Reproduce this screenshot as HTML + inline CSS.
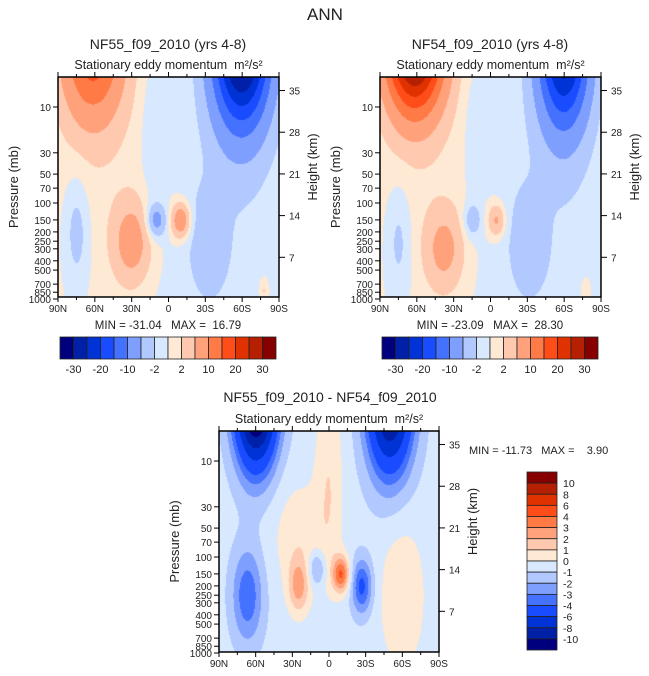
<!DOCTYPE html>
<html><head><meta charset="utf-8">
<style>
body{margin:0;background:#fff;font-family:"Liberation Sans",sans-serif;}
#wrap{position:relative;width:649px;height:676px;overflow:hidden;}
canvas{position:absolute;}
svg{position:absolute;left:0;top:0;}
text{font-family:"Liberation Sans",sans-serif;fill:#222;white-space:pre;}
</style></head><body>
<div id="wrap">
<canvas id="c1" width="221" height="220" style="left:58px;top:77px"></canvas>
<canvas id="c2" width="221" height="220" style="left:380px;top:77px"></canvas>
<canvas id="c3" width="220" height="221" style="left:219px;top:431px"></canvas>
<svg id="s" width="649" height="676"></svg>
</div>
<script>
// ---- data ----
const levelsTop=[-30,-25,-20,-15,-10,-5,-2,0,2,5,10,15,20,25,30];
const levelsDiff=[-10,-8,-6,-4,-3,-2,-1,0,1,2,3,4,6,8,10];
const topBarLabels=["-30","-20","-10","-2","2","10","20","30"];
const diffBarLabels=["10","8","6","4","3","2","1","0","-1","-2","-3","-4","-6","-8","-10"];
const latTicks=[90,60,30,0,-30,-60,-90];
const latLabels=["90N","60N","30N","0","30S","60S","90S"];
const presTicks=[10,30,50,70,100,150,200,250,300,400,500,700,850,1000];
const heightTicks=[35,28,21,14,7];
// blobs: [lat, pressure(mb), amplitude, sigmaLat, sigmaLog10p]
const blobsNF55=[[40,30,1.2,45,1.2],[-40,100,-1.8,40,1.5],[62,2,19,17,0.55],[-60,2,-36,16,0.6],[15,20,-1.5,6,0.6],
 [75,200,-3.5,7,0.4],[30,250,7,11,0.3],[10,150,-7,5.5,0.12],[-10,150,9,5.5,0.13],[-32,250,-3,10,0.35],[-78,800,3,3,0.1]];
const blobsNF54=[[40,30,1.2,45,1.2],[-40,100,-1.8,40,1.5],[62,2,38,16,0.5],[-60,2,-30,14,0.6],[15,20,-1.2,6,0.6],
 [75,250,-3,7,0.4],[38,300,6,11,0.3],[15,150,-4,5,0.12],[-5,150,6,5,0.12],[-30,250,-3,10,0.35],[-78,800,2.5,3,0.1]];
const blobsDiff=[[0,100,-0.6,400,20],[0,15,1.5,8,0.8],[25,60,1.3,15,0.4],[-60,250,1.5,13,0.55],
 [60,2,-14,12,0.5],[-50,2,-11,13,0.55],[67,250,-3.2,9,0.35],[25,200,2.8,6,0.2],[10,130,-2.3,5,0.13],[-10,150,4.5,5,0.13],[-27,200,-3.8,6,0.2]];
const colors=["#00007f","#0020a8","#0033d6","#1a4cff","#4472ff","#7f9fff","#b2c9ff","#d7e8ff","#fde9d4","#ffc9b0","#ffa27c","#ff7a45","#ff4d1a","#e03200","#b52000","#870000"];
// ---- helpers ----
const TOPP=Math.pow(10,1-30/96), DEC=96;
function field(blobs,lat,lp){let v=0;for(const b of blobs){const dl=(lat-b[0])/b[3],dp=(lp-Math.log10(b[1]))/b[4];v+=b[2]*Math.exp(-0.5*(dl*dl+dp*dp));}return v;}
function hex(c){return [parseInt(c.slice(1,3),16),parseInt(c.slice(3,5),16),parseInt(c.slice(5,7),16)];}
const rgb=colors.map(hex);
function draw(id,blobs,levels){const cv=document.getElementById(id),ctx=cv.getContext('2d'),W=cv.width,H=cv.height;
 const im=ctx.createImageData(W,H);
 for(let y=0;y<H;y++){const lp=Math.log10(TOPP)+y/DEC;
  for(let x=0;x<W;x++){const lat=90-x/(W-1)*180;const v=field(blobs,lat,lp);let k=0;while(k<levels.length&&v>=levels[k])k++;
   const c=rgb[k],o=(y*W+x)*4;im.data[o]=c[0];im.data[o+1]=c[1];im.data[o+2]=c[2];im.data[o+3]=255;}}
 ctx.putImageData(im,0,0);}
draw('c1',blobsNF55,levelsTop);draw('c2',blobsNF54,levelsTop);draw('c3',blobsDiff,levelsDiff);
const S=document.getElementById('s'),NS="http://www.w3.org/2000/svg";
function el(t,a,txt){const e=document.createElementNS(NS,t);for(const k in a)e.setAttribute(k,a[k]);if(txt!==undefined)e.textContent=txt;S.appendChild(e);return e;}
function txt(x,y,s,size,name,anchor,extra){const e=el('text',Object.assign({x:x,y:y,'font-size':size,'text-anchor':anchor||'middle'},extra||{}),s);
 
 return e;}
function panel(x0,y0,W,H,pre){
 const xs=lat=>x0+(90-lat)/180*W, ys=p=>y0+(Math.log10(p)-Math.log10(TOPP))*DEC;
 const r=el('rect',{x:x0,y:y0,width:W,height:H,fill:'none',stroke:'#000','stroke-width':1.5});
 
 
 latTicks.forEach((l,i)=>{const x=xs(l);el('line',{x1:x,x2:x,y1:y0+H,y2:y0+H+5,stroke:'#000'});el('line',{x1:x,x2:x,y1:y0,y2:y0-5,stroke:'#000'});
  txt(x,y0+H+15,latLabels[i],10,pre+'-x-tick-label');});
 for(let l=75;l>-90;l-=15){if(l%30==0)continue;const x=xs(l);el('line',{x1:x,x2:x,y1:y0+H,y2:y0+H+3,stroke:'#000'});el('line',{x1:x,x2:x,y1:y0,y2:y0-3,stroke:'#000'});}
 presTicks.forEach(p=>{const y=ys(p);el('line',{x1:x0-5,x2:x0,y1:y,y2:y,stroke:'#000'});txt(x0-7,y+4,String(p),10,pre+'-y-tick-label','end');});
 heightTicks.forEach(h=>{const p=1000*Math.exp(-h/7);const y=ys(p);el('line',{x1:x0+W,x2:x0+W+6,y1:y,y2:y,stroke:'#000'});txt(x0+W+10,y+4,String(h),10,pre+'-height-tick-label','start');});
 txt(0,0,'Pressure (mb)',13,pre+'-y-axis-title','middle',{transform:`translate(${x0-40},${y0+H/2}) rotate(-90)`});
 txt(0,0,'Height (km)',13,pre+'-height-axis-title','middle',{transform:`translate(${x0+W+38},${y0+H/2-20}) rotate(-90)`});
 txt(x0+W/2,y0-8,'Stationary eddy momentum  m²/s²',12.5,pre+'-subtitle');
}
panel(58,77,221,220,'nf55');panel(380,77,221,220,'nf54');panel(219,431,220,221,'diff');
txt(325,20,'ANN',17,'figure-title','middle',{fill:'#555'});
txt(168,49,'NF55_f09_2010 (yrs 4-8)',14,'nf55-title');
txt(490,49,'NF54_f09_2010 (yrs 4-8)',14,'nf54-title');
txt(330,402,'NF55_f09_2010 - NF54_f09_2010',14,'diff-title');
txt(168,329,'MIN = -31.04   MAX =  16.79',11.5,'nf55-minmax');
txt(490,329,'MIN = -23.09   MAX =  28.30',11.5,'nf54-minmax');
txt(469,454,'MIN = -11.73   MAX =    3.90',11,'diff-minmax','start');
function hbar(x0,pre){const w=216/16;colors.forEach((c,i)=>{const r=el('rect',{x:x0+i*w,y:337,width:w,height:22,fill:c,stroke:'#222','stroke-width':0.8});
 
 });
 topBarLabels.forEach((s,i)=>txt(x0+(1+2*i)*w,373,s,11,pre+'-colorbar-label'));}
hbar(60,'nf55');hbar(382,'nf54');
const bh=178/16;colors.slice().reverse().forEach((c,i)=>{const r=el('rect',{x:527,y:472+i*bh,width:30,height:bh,fill:c,stroke:'#222','stroke-width':0.8});
 
 });
diffBarLabels.forEach((s,i)=>txt(563,472+(i+1)*bh+4,s,10.5,'diff-colorbar-label','start'));
</script>
</body></html>
